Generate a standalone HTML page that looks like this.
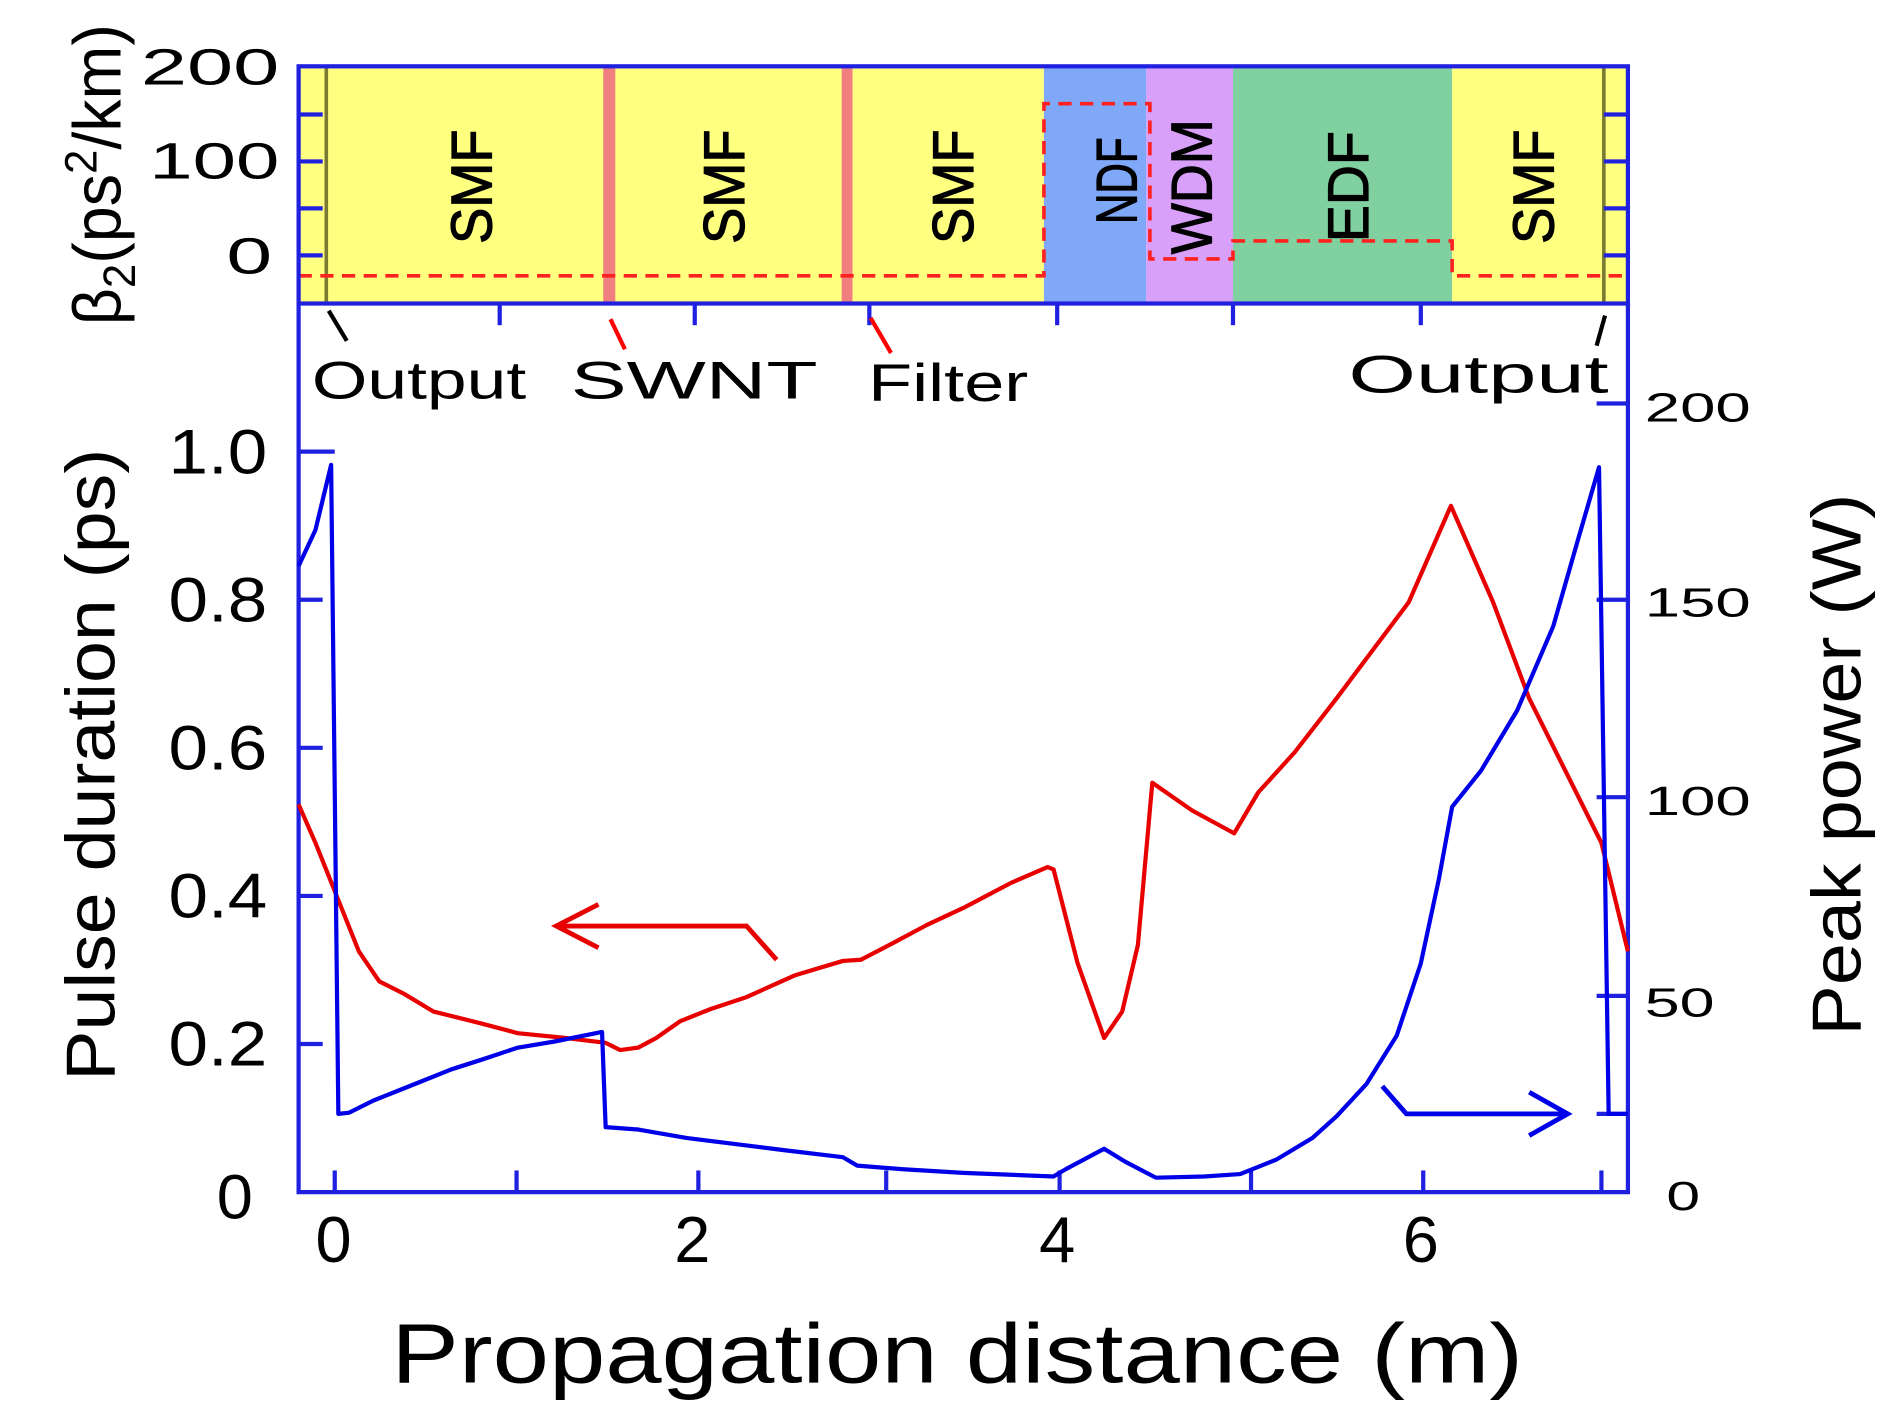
<!DOCTYPE html>
<html><head><meta charset="utf-8"><style>
html,body{margin:0;padding:0;background:#fff;}
svg{display:block;}
text{font-family:"Liberation Sans",Arial,sans-serif;fill:#000;}
</style></head><body>
<svg width="1888" height="1421" viewBox="0 0 1568 1180" xmlns="http://www.w3.org/2000/svg">
<rect x="248" y="55" width="619" height="197" fill="#ffff80"/>
<rect x="867" y="55" width="85" height="197" fill="#80a8f8"/>
<rect x="952" y="55" width="72" height="197" fill="#d8a0f8"/>
<rect x="1024" y="55" width="182" height="197" fill="#80d0a0"/>
<rect x="1206" y="55" width="146" height="197" fill="#ffff80"/>
<rect x="501" y="55" width="10" height="197" fill="#f08080"/>
<rect x="699" y="55" width="9" height="197" fill="#f08080"/>
<line x1="271" y1="55" x2="271" y2="252" stroke="#7a7a30" stroke-width="3"/>
<line x1="1332" y1="55" x2="1332" y2="252" stroke="#7a7a30" stroke-width="3"/>
<polyline points="248,229 867,229 867,86 955,86 955,215 1024,215 1024,200 1206,200 1206,229 1352,229" fill="none" stroke="#ff2020" stroke-width="3" stroke-dasharray="11,7"/>
<g font-size="48" text-anchor="middle" stroke="#000" stroke-width="1">
<text transform="translate(408,155) rotate(-90)" textLength="95" lengthAdjust="spacingAndGlyphs">SMF</text>
<text transform="translate(618,155) rotate(-90)" textLength="95" lengthAdjust="spacingAndGlyphs">SMF</text>
<text transform="translate(808,155) rotate(-90)" textLength="95" lengthAdjust="spacingAndGlyphs">SMF</text>
<text transform="translate(1290,155) rotate(-90)" textLength="95" lengthAdjust="spacingAndGlyphs">SMF</text>
<text transform="translate(944,150) rotate(-90)" textLength="72" lengthAdjust="spacingAndGlyphs">NDF</text>
<text transform="translate(1006,155) rotate(-90)" textLength="112" lengthAdjust="spacingAndGlyphs">WDM</text>
<text transform="translate(1136,155) rotate(-90)" textLength="92" lengthAdjust="spacingAndGlyphs">EDF</text>
</g>
<rect x="248" y="55" width="1104" height="197" fill="none" stroke="#2020e0" stroke-width="3.5"/>
<g stroke="#2020e0" stroke-width="3.5">
<line x1="248" y1="95" x2="268" y2="95"/><line x1="248" y1="134" x2="268" y2="134"/><line x1="248" y1="173" x2="268" y2="173"/><line x1="248" y1="212" x2="268" y2="212"/>
<line x1="1332" y1="95" x2="1352" y2="95"/><line x1="1332" y1="134" x2="1352" y2="134"/><line x1="1332" y1="173" x2="1352" y2="173"/><line x1="1332" y1="212" x2="1352" y2="212"/>
<line x1="415" y1="252" x2="415" y2="270"/><line x1="577" y1="252" x2="577" y2="270"/><line x1="722" y1="252" x2="722" y2="270"/><line x1="878" y1="252" x2="878" y2="270"/><line x1="1024" y1="252" x2="1024" y2="270"/><line x1="1180" y1="252" x2="1180" y2="270"/>
</g>
<g font-size="42" text-anchor="end">
<text x="232" y="70" textLength="115" lengthAdjust="spacingAndGlyphs">200</text>
<text x="232" y="148" textLength="108" lengthAdjust="spacingAndGlyphs">100</text>
<text x="226" y="227" textLength="38" lengthAdjust="spacingAndGlyphs">0</text>
</g>
<text transform="translate(100,270) rotate(-90)" font-size="56" textLength="250" lengthAdjust="spacingAndGlyphs">β<tspan font-size="38" dy="12">2</tspan><tspan dy="-12">(ps</tspan><tspan font-size="38" dy="-20">2</tspan><tspan dy="20">/km)</tspan></text>
<g stroke-width="3.5">
<line x1="273" y1="258" x2="288" y2="283" stroke="#000"/>
<line x1="507" y1="265" x2="519" y2="290" stroke="#ff0000"/>
<line x1="723" y1="264" x2="740" y2="293" stroke="#ff0000"/>
<line x1="1333" y1="262" x2="1326" y2="287" stroke="#000"/>
</g>
<g font-size="44">
<text x="259" y="331" textLength="178" lengthAdjust="spacingAndGlyphs">Output</text>
<text x="474" y="331" textLength="205" lengthAdjust="spacingAndGlyphs">SWNT</text>
<text x="721" y="333" textLength="133" lengthAdjust="spacingAndGlyphs">Filter</text>
<text x="1120" y="326" textLength="216" lengthAdjust="spacingAndGlyphs">Output</text>
</g>
<g stroke="#2020e0" stroke-width="3.5" fill="none">
<polyline points="248,252 248,990 1352,990 1352,252"/>
<line x1="248" y1="375" x2="278" y2="375"/><line x1="248" y1="498" x2="268" y2="498"/><line x1="248" y1="621" x2="268" y2="621"/><line x1="248" y1="744" x2="268" y2="744"/><line x1="248" y1="867" x2="268" y2="867"/>
<line x1="278" y1="990" x2="278" y2="972"/><line x1="429" y1="990" x2="429" y2="972"/><line x1="580" y1="990" x2="580" y2="972"/><line x1="736" y1="990" x2="736" y2="972"/><line x1="880" y1="990" x2="880" y2="972"/><line x1="1039" y1="990" x2="1039" y2="972"/><line x1="1182" y1="990" x2="1182" y2="972"/><line x1="1330" y1="990" x2="1330" y2="972"/>
<line x1="1326" y1="335" x2="1352" y2="335"/><line x1="1326" y1="498" x2="1352" y2="498"/><line x1="1326" y1="662" x2="1352" y2="662"/><line x1="1326" y1="827" x2="1352" y2="827"/><line x1="1326" y1="925" x2="1352" y2="925"/>
</g>
<g font-size="52" text-anchor="end">
<text x="222" y="393" textLength="82" lengthAdjust="spacingAndGlyphs">1.0</text>
<text x="222" y="516" textLength="82" lengthAdjust="spacingAndGlyphs">0.8</text>
<text x="222" y="639" textLength="82" lengthAdjust="spacingAndGlyphs">0.6</text>
<text x="222" y="762" textLength="82" lengthAdjust="spacingAndGlyphs">0.4</text>
<text x="222" y="885" textLength="82" lengthAdjust="spacingAndGlyphs">0.2</text>
<text x="210" y="1012" textLength="30" lengthAdjust="spacingAndGlyphs">0</text>
</g>
<g font-size="34">
<text x="1366" y="350" textLength="88" lengthAdjust="spacingAndGlyphs">200</text>
<text x="1366" y="512" textLength="88" lengthAdjust="spacingAndGlyphs">150</text>
<text x="1366" y="677" textLength="88" lengthAdjust="spacingAndGlyphs">100</text>
<text x="1366" y="844" textLength="58" lengthAdjust="spacingAndGlyphs">50</text>
<text x="1384" y="1005" textLength="28" lengthAdjust="spacingAndGlyphs">0</text>
</g>
<g font-size="54" text-anchor="middle">
<text x="277" y="1048" textLength="30" lengthAdjust="spacingAndGlyphs">0</text>
<text x="575" y="1048" textLength="30" lengthAdjust="spacingAndGlyphs">2</text>
<text x="878" y="1048" textLength="30" lengthAdjust="spacingAndGlyphs">4</text>
<text x="1180" y="1048" textLength="30" lengthAdjust="spacingAndGlyphs">6</text>
</g>
<text x="795" y="1148" font-size="70" text-anchor="middle" textLength="940" lengthAdjust="spacingAndGlyphs">Propagation distance (m)</text>
<text transform="translate(95,635) rotate(-90)" font-size="58" text-anchor="middle" textLength="525" lengthAdjust="spacingAndGlyphs">Pulse duration (ps)</text>
<text transform="translate(1545,635) rotate(-90)" font-size="58" text-anchor="middle" textLength="450" lengthAdjust="spacingAndGlyphs">Peak power (W)</text>
<polyline fill="none" stroke="#e80000" stroke-width="3.5" stroke-linejoin="round" points="248,668 262,700 280,745 298,790 315,815 335,825 360,840 400,850 430,858 470,862 503,866 515,872 530,870 545,862 565,848 590,838 620,828 660,810 700,798 715,797 740,784 770,768 800,754 840,733 870,720 875,722 895,800 917,862 932,840 945,785 957,650 990,673 1025,692 1045,658 1075,625 1110,580 1140,540 1170,500 1205,420 1240,500 1270,580 1300,640 1330,700 1352,790"/>
<polyline fill="none" stroke="#0000e8" stroke-width="3.5" stroke-linejoin="round" points="248,470 262,440 275,386 281,925 290,924 310,914 330,906 350,898 375,888 400,880 430,870 460,865 500,857 503,936 530,938 570,945 610,950 650,955 700,961 712,968 750,971 800,974 875,977 885,971 917,954 935,965 960,978 1000,977 1030,975 1060,963 1090,945 1110,927 1135,900 1160,860 1180,800 1195,730 1206,670 1230,640 1260,590 1290,520 1310,450 1328,388 1336,925 1352,925"/>
<g fill="none" stroke-width="4">
<polyline stroke="#e80000" points="645,797 620,769 462,769"/>
<polyline stroke="#e80000" points="497,751 462,769 497,787"/>
<polyline stroke="#0000e8" points="1148,902 1168,925 1300,925"/>
<polyline stroke="#0000e8" points="1270,907 1302,925 1270,943"/>
</g>
</svg>
</body></html>
